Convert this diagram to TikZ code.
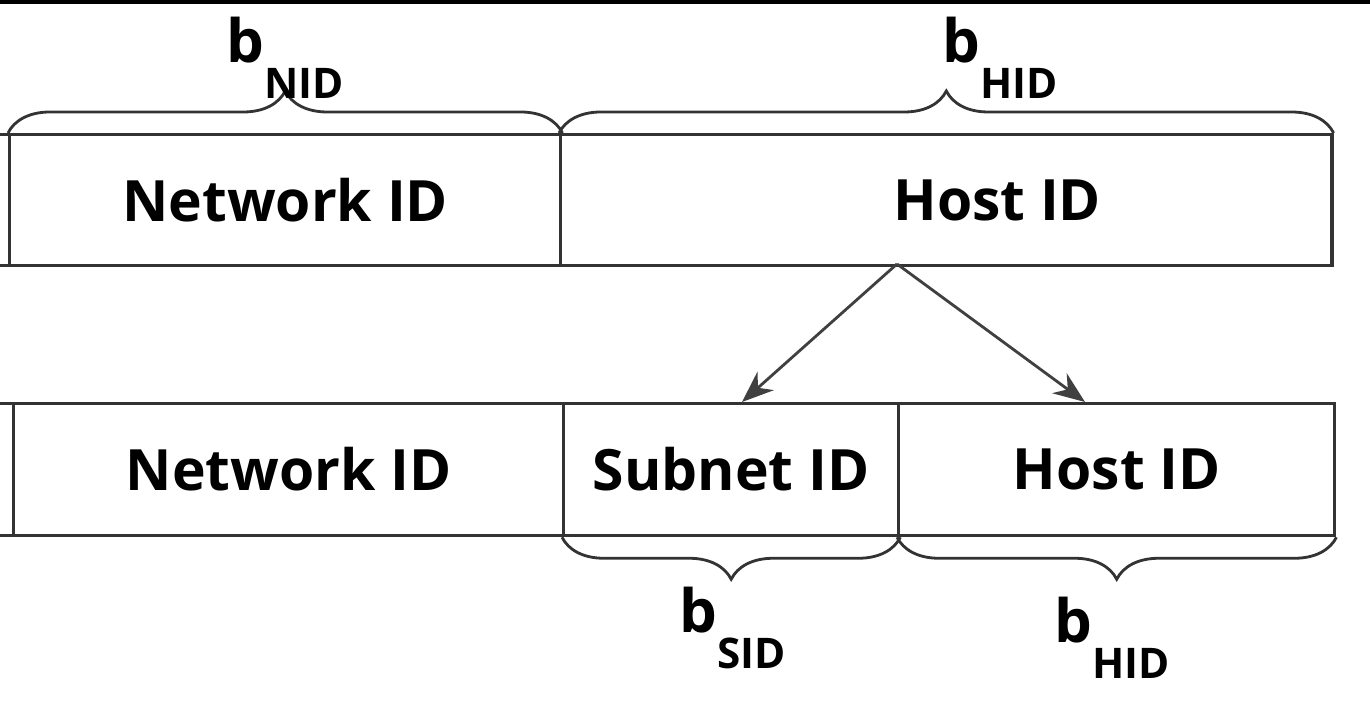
\documentclass[tikz,border=0pt]{standalone}
\usepackage{fontspec}
\setmainfont{Open Sans}
\usetikzlibrary{decorations.pathreplacing,arrows.meta}
\begin{document}
\begin{tikzpicture}[x=0.01cm,y=-0.01cm]
        \tikzset{field/.style={draw=black!80, line width=0.9pt, inner sep=0pt, anchor=north west, font=\fontsize{16.2}{19}\selectfont\bfseries}}
        \tikzset{wid/.style={draw=black!80, thick, decorate, decoration={brace, amplitude=0.42cm}}}
        \tikzset{blab/.style={inner sep=0pt, font=\fontsize{17}{20}\selectfont\bfseries}}
        \tikzset{split/.style={draw=black!75, thick, -{Stealth[length=9pt,width=7pt]}}}
        \useasboundingbox (0,0) rectangle (1370,706);
        \clip (0,0) rectangle (1370,706);
        \draw[line width=1.6pt] (0,1) -- (1370,1);
        % upper address
        \node[field, minimum width=1.08cm, minimum height=1.31cm] (oldpre) at (-100,133) {};
        \node[field, minimum width=5.51cm, minimum height=1.31cm] (oldnet) at (8,133) {Network ID};
        \node[field, minimum width=7.71cm, minimum height=1.31cm,
              label={[font=\fontsize{16.2}{19}\selectfont\bfseries, xshift=0.51cm]center:Host ID}] (oldhost) at (559,133) {};
        \draw[wid] (oldnet.north west) -- (oldnet.north east);
        \draw[wid] (oldhost.north west) -- (oldhost.north east);
        \node[blab] (bnid) at (285,58) {b\raisebox{-0.6em}{\fontsize{12}{14}\selectfont NID}};
        \node[blab] (bhid) at (1000,58) {b\raisebox{-0.6em}{\fontsize{12}{14}\selectfont HID}};
        % lower address
        \node[field, minimum width=1.12cm, minimum height=1.32cm] (newpre) at (-100,402) {};
        \node[field, minimum width=5.50cm, minimum height=1.32cm] (newnet) at (12,402) {Network ID};
        \node[field, minimum width=3.35cm, minimum height=1.32cm] (subnet) at (562,402) {Subnet ID};
        \node[field, minimum width=4.36cm, minimum height=1.32cm] (newhost) at (897,402) {Host ID};
        \draw[wid, decoration={mirror}] (subnet.south west) -- (subnet.south east);
        \draw[wid, decoration={mirror}] (newhost.south west) -- (newhost.south east);
        \node[blab] (bsid) at (733,628) {b\raisebox{-0.6em}{\fontsize{12}{14}\selectfont SID}};
        \node[blab] (bhid2) at (1112,638) {b\raisebox{-0.6em}{\fontsize{12}{14}\selectfont HID}};
        % splitting the host part
        \coordinate (fork) at (897,264);
        \coordinate (tosub) at (742,402);
        \coordinate (tohost) at (1085,402);
        \draw[split] (fork) -- (tosub);
        \draw[split] (fork) -- (tohost);
    \end{tikzpicture}
\end{document}
